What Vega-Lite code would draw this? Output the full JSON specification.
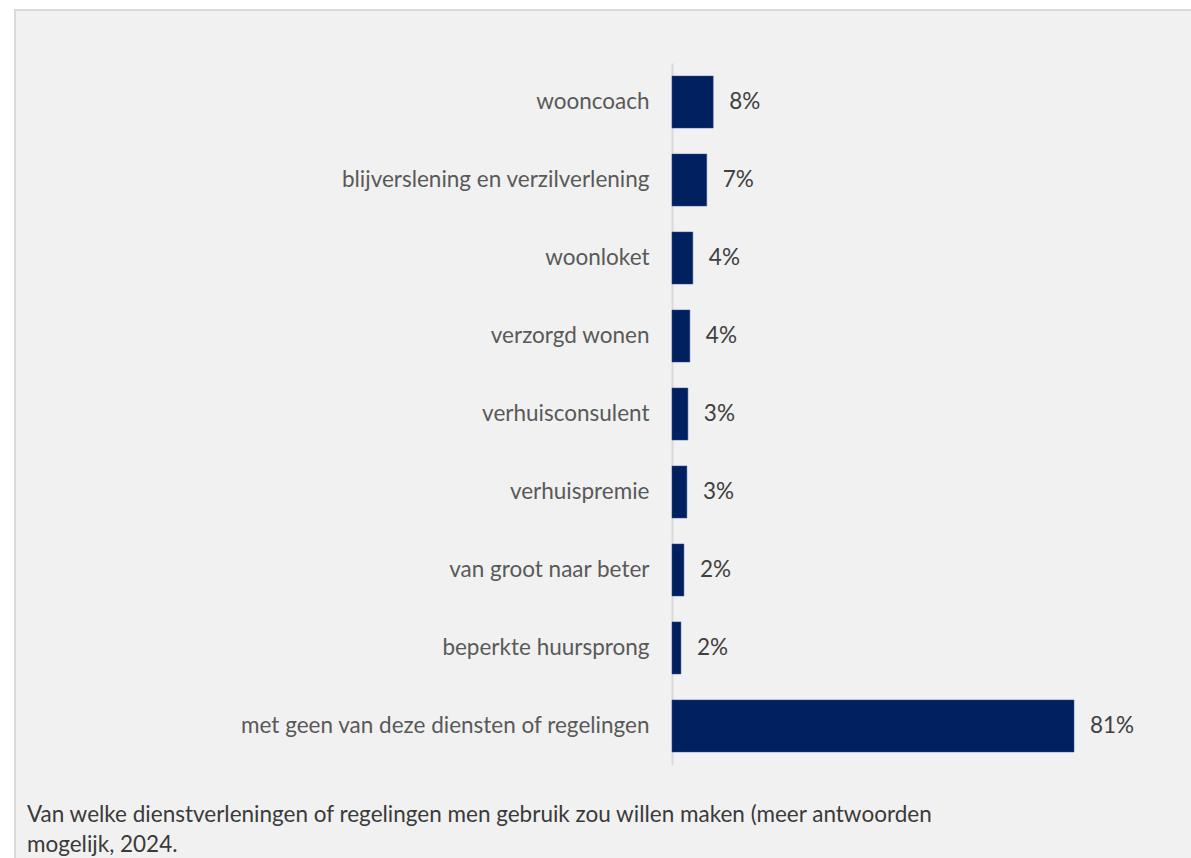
{
  "$schema": "https://vega.github.io/schema/vega-lite/v6.json",
  "width": 1178,
  "height": 850,
  "padding": {"left": 15, "top": 10, "right": 0, "bottom": 0},
  "autosize": {"type": "none"},
  "background": "#ffffff",
  "config": {
    "view": {"fill": "#f1f1f1", "stroke": "#d9d9d9", "strokeWidth": 2},
    "font": "Lato"
  },
  "title": {
    "text": ["Van welke dienstverleningen of regelingen men gebruik zou willen maken (meer antwoorden", "mogelijk, 2024."],
    "orient": "bottom",
    "anchor": "start",
    "frame": "group",
    "offset": -56,
    "dx": 12,
    "fontSize": 22.5,
    "fontWeight": "normal",
    "color": "#3a3a3a",
    "lineHeight": 30,
    "baseline": "top"
  },
  "data": {
    "values": [
      {"item": "wooncoach", "pct": 0.083},
      {"item": "blijverslening en verzilverlening", "pct": 0.07},
      {"item": "woonloket", "pct": 0.042},
      {"item": "verzorgd wonen", "pct": 0.036},
      {"item": "verhuisconsulent", "pct": 0.032},
      {"item": "verhuispremie", "pct": 0.03},
      {"item": "van groot naar beter", "pct": 0.024},
      {"item": "beperkte huursprong", "pct": 0.018},
      {"item": "met geen van deze diensten of regelingen", "pct": 0.81}
    ]
  },
  "encoding": {
    "y": {
      "field": "item",
      "type": "nominal",
      "sort": null,
      "scale": {"range": [53, 755], "paddingInner": 0.333, "paddingOuter": 0.167},
      "axis": {
        "title": null,
        "offset": -657,
        "domainColor": "#d9d9d9",
        "domainWidth": 2,
        "ticks": false,
        "labelPadding": 23,
        "labelFontSize": 22.5,
        "labelColor": "#595959",
        "labelLimit": 600
      }
    },
    "x": {
      "field": "pct",
      "type": "quantitative",
      "scale": {"domain": [-1.3238, 1.0498], "nice": false, "zero": false},
      "axis": null
    }
  },
  "layer": [
    {"mark": {"type": "bar", "color": "#002060", "stroke": "#2f4f8f", "strokeWidth": 0.5}},
    {
      "mark": {"type": "text", "align": "left", "baseline": "middle", "dx": 16, "fontSize": 22.5, "color": "#404040"},
      "encoding": {"text": {"field": "pct", "type": "quantitative", "format": ".0%"}}
    }
  ]
}
